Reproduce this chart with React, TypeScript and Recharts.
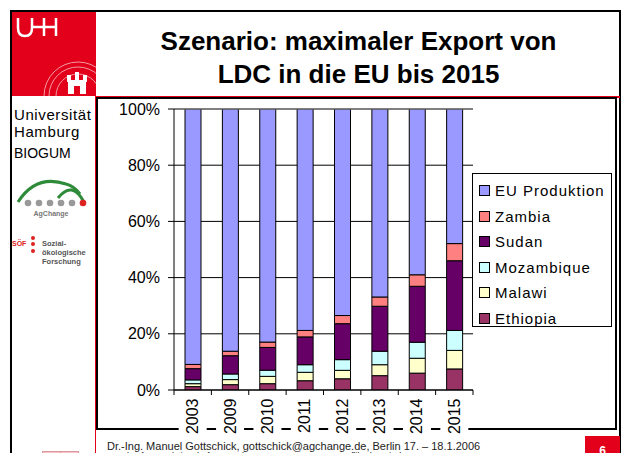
import { BarChart, Bar, XAxis, YAxis, CartesianGrid, ReferenceLine } from "recharts";

const years = ["2003", "2009", "2010", "2011", "2012", "2013", "2014", "2015"];
// shares in % of supply, bottom to top of each stack
const ethiopia = [1.2, 1.9, 2.25, 3.3, 4.0, 5.1, 6.0, 7.5];
const malawi = [1.05, 1.8, 2.6, 3.0, 3.0, 3.9, 5.3, 6.6];
const mozambique = [1.35, 2.0, 2.2, 2.7, 3.8, 4.8, 5.7, 7.1];
const sudan = [4.0, 6.5, 8.1, 9.9, 12.8, 16.0, 19.9, 24.8];
const zambia = [1.5, 1.6, 1.9, 2.3, 2.9, 3.3, 4.1, 6.1];
const euProduktion = [90.9, 86.2, 82.95, 78.8, 73.5, 66.9, 59.0, 47.9];
const yTicks = [0, 20, 40, 60, 80, 100];

const series = [
  { key: "Ethiopia", values: ethiopia, color: "#993366" },
  { key: "Malawi", values: malawi, color: "#FFFFCC" },
  { key: "Mozambique", values: mozambique, color: "#CCFFFF" },
  { key: "Sudan", values: sudan, color: "#660066" },
  { key: "Zambia", values: zambia, color: "#FF8080" },
  { key: "EU Produktion", values: euProduktion, color: "#9999FF" },
];

const data = years.map((year, i) => {
  const row: Record<string, string | number> = { year };
  series.forEach((s) => (row[s.key] = s.values[i]));
  return row;
});

const FONT = '"Liberation Sans", Arial, sans-serif';

function YearTick(props: any) {
  const { x, y, payload, index, width, visibleTicksCount } = props;
  const count = visibleTicksCount || years.length;
  const step = (width || 299) / count;
  return (
    <g>
      <line x1={x - step / 2} y1={y} x2={x - step / 2} y2={y + 5} stroke="#000" />
      {index === count - 1 && <line x1={x + step / 2} y1={y} x2={x + step / 2} y2={y + 5} stroke="#000" />}
      <rect x={x - 14} y={y + 6} width={28} height={46} fill="#fff" />
      <text
        transform={`translate(${x},${y + 8.5}) rotate(-90)`}
        textAnchor="end"
        dominantBaseline="central"
        fontSize={16}
        fontFamily={FONT}
        fill="#000"
      >
        {payload.value}
      </text>
    </g>
  );
}

function LegendBox() {
  const items = [...series].reverse();
  return (
    <div style={{ position: "absolute", left: 472, top: 173, border: "1px solid #000", background: "#fff", width: 140, height: 154, paddingTop: 4, boxSizing: "border-box" }}>
      {items.map((it) => (
        <div key={it.key} style={{ display: "flex", alignItems: "center", height: 25.5 }}>
          <span style={{ width: 9, height: 9, border: "1px solid #000", background: it.color, marginLeft: 6, marginRight: 5 }} />
          <span style={{ fontSize: 15, letterSpacing: 1, fontFamily: FONT, color: "#000" }}>{it.key}</span>
        </div>
      ))}
    </div>
  );
}

function UhhLogo() {
  return (
    <svg width={84} height={84} style={{ position: "absolute", left: 12, top: 12 }}>
      <rect width={84} height={84} fill="#E2001A" />
      <g stroke="#fff" strokeWidth={2.5} fill="none">
        <path d="M6 6 V16 Q6 24 13 24 Q20 24 20 16 V6" />
        <path d="M20 15 H32 M32 6 V24 M32 15 H44 M44 6 V24" />
      </g>
      <g stroke="#f39aa4" strokeWidth={1} fill="none">
        <circle cx={66} cy={84} r={34} />
        <circle cx={66} cy={84} r={29} />
        <circle cx={66} cy={84} r={22} />
      </g>
      <g fill="#fff">
        <rect x={56} y={68} width={18} height={14} />
        <rect x={55} y={63} width={4} height={7} />
        <rect x={63} y={60} width={4} height={9} />
        <rect x={71} y={63} width={4} height={7} />
      </g>
      <rect x={62} y={74} width={6} height={8} fill="#E2001A" />
    </svg>
  );
}

function AgChangeLogo() {
  const dots = ["#999", "#999", "#999", "#999", "#999", "#d22"];
  return (
    <svg width={80} height={50} style={{ position: "absolute", left: 14, top: 172 }}>
      <path d="M4 30 Q22 2 52 12 Q60 14 66 22" stroke="#2e8b3a" strokeWidth={3} fill="none" />
      <path d="M44 26 Q58 8 70 30" stroke="#2e8b3a" strokeWidth={3} fill="none" />
      {dots.map((c, i) => (
        <circle key={i} cx={14 + i * 11} cy={31} r={3.3} fill={c} />
      ))}
      <text x={37} y={44} fontSize={7} fontWeight="bold" fill="#777" textAnchor="middle" fontFamily={FONT}>
        AgChange
      </text>
    </svg>
  );
}

function SoefLogo() {
  return (
    <svg width={84} height={40} style={{ position: "absolute", left: 12, top: 232 }}>
      <text x={0} y={14} fontSize={7} fontWeight="bold" fill="#d22" fontFamily={FONT}>SÖF</text>
      <circle cx={21} cy={6} r={2} fill="#d22" />
      <circle cx={21} cy={12} r={2} fill="#d22" />
      <circle cx={21} cy={19} r={2} fill="#d22" />
      <text x={30} y={14} fontSize={7.5} fontWeight="bold" fill="#555" fontFamily={FONT}>Sozial-</text>
      <text x={30} y={23} fontSize={7.5} fontWeight="bold" fill="#555" fontFamily={FONT}>ökologische</text>
      <text x={30} y={32} fontSize={7.5} fontWeight="bold" fill="#555" fontFamily={FONT}>Forschung</text>
    </svg>
  );
}

export default function App() {
  return (
    <div style={{ position: "relative", width: 629, height: 461, margin: -8, overflow: "hidden", background: "#fff", fontFamily: FONT }}>
      {/* slide frame */}
      <div style={{ position: "absolute", left: 10, top: 10, width: 607, height: 470, border: "2px solid #000", borderRightWidth: 3 }} />
      <UhhLogo />
      <div style={{ position: "absolute", left: 96, top: 96, width: 524, height: 2, background: "#E2001A" }} />
      <div style={{ position: "absolute", left: 95, top: 96, width: 1, height: 365, background: "#E2001A" }} />
      <div style={{ position: "absolute", left: 97, top: 25, width: 523, textAlign: "center", fontSize: 26, fontWeight: "bold", lineHeight: "33px", color: "#000" }}>
        Szenario: maximaler Export von
        <br />
        LDC in die EU bis 2015
      </div>

      {/* sidebar */}
      <div style={{ position: "absolute", left: 14, top: 106, fontSize: 15, letterSpacing: 0.6, lineHeight: "17px", color: "#000" }}>
        Universität
        <br />
        Hamburg
      </div>
      <div style={{ position: "absolute", left: 14, top: 145, fontSize: 14, color: "#000" }}>BIOGUM</div>
      <AgChangeLogo />
      <SoefLogo />

      {/* chart box */}
      <div style={{ position: "absolute", left: 96, top: 97, width: 517, height: 329, border: "2px solid #000" }} />
      <div style={{ position: "absolute", left: 97, top: 97 }}>
        <BarChart
          width={518}
          height={350}
          data={data}
          margin={{ top: 12, right: 142, bottom: 0, left: 0 }}
          barSize={16}
          style={{ overflow: "visible" }}
        >
          <CartesianGrid vertical={false} stroke="#000" />
          <XAxis
            dataKey="year"
            height={57}
            axisLine={{ stroke: "#000" }}
            tickLine={false}
            tickSize={0}
            tickMargin={0}
            interval={0}
            tick={<YearTick />}
          />
          <YAxis
            domain={[0, 100]}
            ticks={yTicks}
            allowDataOverflow
            width={77}
            tickFormatter={(v) => `${v}%`}
            axisLine={{ stroke: "#000" }}
            tickLine={{ stroke: "#000" }}
            tickSize={6}
            tickMargin={8}
            tick={{ fill: "#000", fontSize: 16, fontFamily: FONT }}
          />
          <YAxis yAxisId="r" orientation="right" domain={[0, 100]} width={0} tick={false} tickLine={false} axisLine={{ stroke: "#808080" }} />
          <ReferenceLine y={100} stroke="#808080" />
          {series.map((s) => (
            <Bar key={s.key} dataKey={s.key} stackId="a" fill={s.color} stroke="#000" strokeWidth={1} isAnimationActive={false} />
          ))}
        </BarChart>
      </div>
      <LegendBox />

      {/* footer */}
      <div style={{ position: "absolute", left: 42, top: 451, width: 17, height: 9, background: "#f3c4cc", border: "1px solid #d99" }} />
      <div style={{ position: "absolute", left: 60, top: 451, width: 17, height: 9, background: "#f3c4cc", border: "1px solid #d99" }} />
      <div style={{ position: "absolute", left: 107, top: 441, fontSize: 11, lineHeight: "11px", color: "#222", whiteSpace: "nowrap" }}>
        Dr.-Ing. Manuel Gottschick, gottschick@agchange.de, Berlin 17. – 18.1.2006
      </div>
      <div style={{ position: "absolute", left: 107, top: 452, fontSize: 9, lineHeight: "9px", color: "#222", whiteSpace: "nowrap" }}>
        Impulse für Landwirtschaft &amp; Ernährung. Instrumente zur Konfliktüberwindung
      </div>
      <div style={{ position: "absolute", left: 585, top: 436, width: 35, height: 25, background: "#E2001A", color: "#fff", fontSize: 12, fontWeight: "bold", textAlign: "center", lineHeight: "30px" }}>
        6
      </div>
    </div>
  );
}
